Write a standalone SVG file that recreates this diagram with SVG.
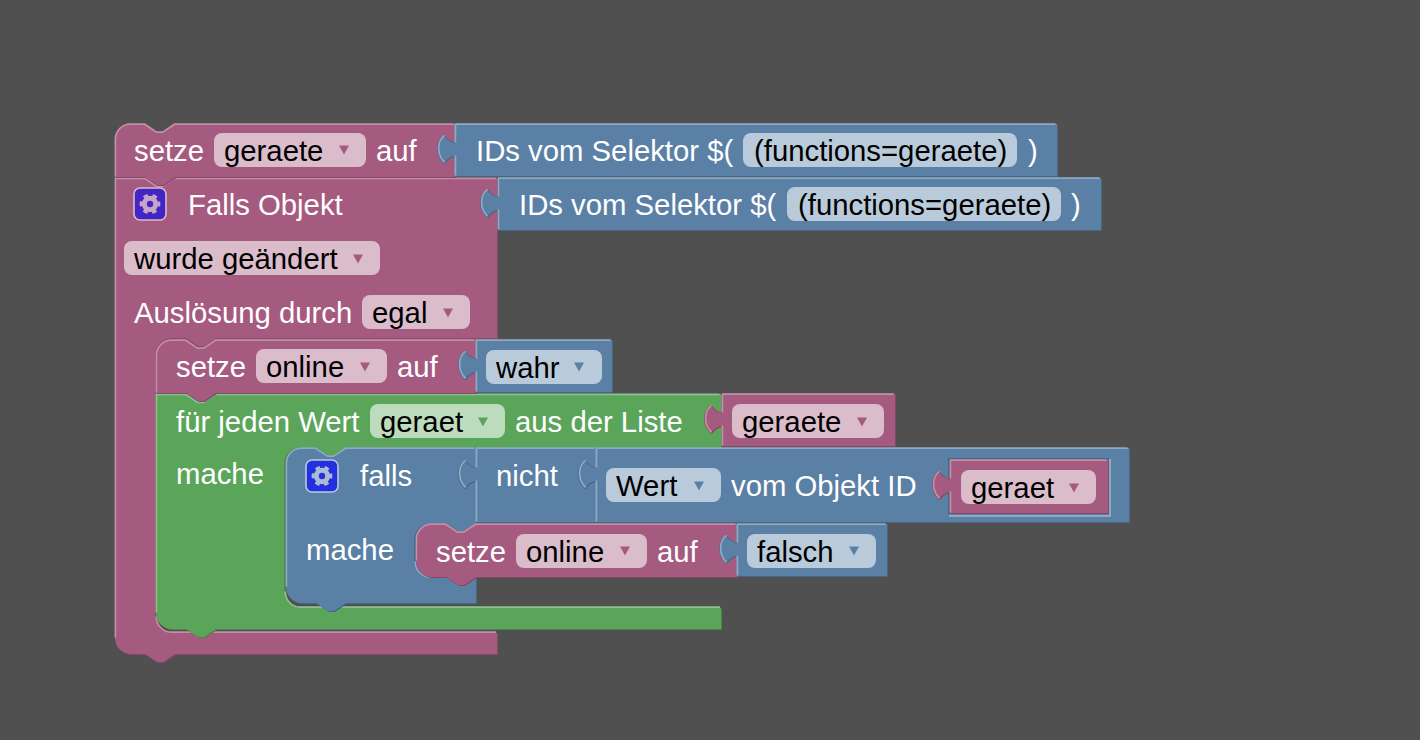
<svg xmlns="http://www.w3.org/2000/svg" width="1420" height="740" viewBox="0 0 1420 740">
<style>
text{font-family:"Liberation Sans",Arial,sans-serif;font-size:29.3px;fill:#fff}
text.f{fill:#000}
.pf{fill:#a55b80}.pd{fill:#844966}.pl{fill:none;stroke:#c28ea8;stroke-width:1.7}.ps{fill:none;stroke:#844966;stroke-width:1.6}
.bf{fill:#5b80a5}.bd{fill:#496684}.bl{fill:none;stroke:#8cabc4;stroke-width:1.7}.bs{fill:none;stroke:#496684;stroke-width:1.6}
.gf{fill:#5ba55b}.gd{fill:#498449}.gl{fill:none;stroke:#8cc38c;stroke-width:1.7}.gs{fill:none;stroke:#498449;stroke-width:1.6}
.pl,.bl,.gl{transform:translate(-.4px,-.6px)}
.dk{transform:translate(1px,1px)}
.pr{fill:#dbbccb}.br{fill:#b9cbdb}.gr{fill:#bddbbd}
.gear{fill:none}
</style>
<defs>
<path id="tri" d="M-5,-4.5H5L0,4.5Z"/>
<g id="gear" class="gear">
<circle r="5.7" stroke-width="5"/>
<circle r="8.8" stroke-width="3.2" stroke-dasharray="4.6 4.61" transform="rotate(-15)"/>
</g>
<path id="s1" d="M115,140a16,16 0 0 1 16,-16H145l12,8h6l12,-8H455V177H175l-12,8h-6l-12,-8H115Z"/>
<path id="s2" d="M115,178H145l12,8h6l12,-8H497V339H216l-12,8h-6l-12,-8H172a16,16 0 0 0 -16,16V617a16,16 0 0 0 16,16H497V654H175l-12,8h-6l-12,-8H131a16,16 0 0 1 -16,-16Z"/>
<path id="s3" d="M156,356a16,16 0 0 1 16,-16H186l12,8h6l12,-8H476V393H216l-12,8h-6l-12,-8H156Z"/>
<path id="s4" d="M156,394H186l12,8h6l12,-8H721V448H346l-12,8h-6l-12,-8H301a16,16 0 0 0 -16,16V592a16,16 0 0 0 16,16H721V629H216l-12,8h-6l-12,-8H172a16,16 0 0 1 -16,-16Z"/>
<path id="s5" d="M286,464a16,16 0 0 1 16,-16H316l12,8h6l12,-8H476V524l-12,8h-6l-12,-8H431a16,16 0 0 0 -16,16V562a16,16 0 0 0 16,16H476V603H346l-12,8h-6l-12,-8H302a16,16 0 0 1 -16,-16Z"/>
<path id="s6" d="M416,540a16,16 0 0 1 16,-16H446l12,8h6l12,-8H737V577H476l-12,8h-6l-12,-8H432a16,16 0 0 1 -16,-16Z"/>
<path id="o1" d="M455,124H1057V176H455V156q-6,0 -11,7q-6,-6 -6,-14q0,-9 6,-13q5,7 11,7Z"/>
<path id="o2" d="M498,178H1101V230H498V210q-6,0 -11,7q-6,-6 -6,-14q0,-9 6,-13q5,7 11,7Z"/>
<path id="o3" d="M476,340H612V392H476V372q-6,0 -11,7q-6,-6 -6,-14q0,-9 6,-13q5,7 11,7Z"/>
<path id="o4" d="M722,394H895V446H722V426q-6,0 -11,7q-6,-6 -6,-14q0,-9 6,-13q5,7 11,7Z"/>
<path id="o5" d="M476,448H596V522H476V481q-6,0 -11,7q-6,-6 -6,-14q0,-9 6,-13q5,7 11,7Z"/>
<path id="o6" d="M596,448H1129V522H596V481q-6,0 -11,7q-6,-6 -6,-14q0,-9 6,-13q5,7 11,7Z"/>
<path id="o7" d="M950,460H1108V513H950V492q-6,0 -11,7q-6,-6 -6,-14q0,-9 6,-13q5,7 11,7Z"/>
<path id="o8" d="M737,524H887V576H737V556q-6,0 -11,7q-6,-6 -6,-14q0,-9 6,-13q5,7 11,7Z"/>
</defs>
<rect width="1420" height="740" fill="#505050"/>

<g id="falls-objekt">
<use href="#s2" class="pd dk"/><use href="#s2" class="pf"/>
<path class="ps" d="M497,339H216l-12,8h-6l-12,-8H172a16,16 0 0 0 -16,16V617"/>
<path class="pl" d="M115.8,638V179H145l12,8h6l12,-8H496.5M156.8,617a15,15 0 0 0 15,15.8H496.5"/>
<rect x="134" y="188" width="32" height="32" rx="6" fill="#4225c4" stroke="#dbbccb" stroke-width="1.6"/>
<use href="#gear" transform="translate(150,204)" stroke="#c7a5c6"/>
<text x="188" y="215">Falls Objekt</text>
<rect class="pr" x="124" y="241" width="256" height="34" rx="8"/>
<text class="f" x="134" y="269">wurde geändert</text>
<use href="#tri" class="pf" x="358" y="259"/>
<text x="134" y="323">Auslösung durch</text>
<rect class="pr" x="362" y="295" width="108" height="34" rx="8"/>
<text class="f" x="372" y="323">egal</text>
<use href="#tri" class="pf" x="448" y="313"/>
</g>

<g id="setze-geraete">
<use href="#s1" class="pd dk"/><use href="#s1" class="pf"/>
<path class="pl" d="M115.8,177V140a15,15 0 0 1 15,-15.2H145l12,8h6l12,-8H454"/>
<text x="134" y="161">setze</text>
<rect class="pr" x="214" y="133" width="152" height="34" rx="8"/>
<text class="f" x="224" y="161">geraete</text>
<use href="#tri" class="pf" x="344" y="150"/>
<text x="376" y="161">auf</text>
</g>

<g id="ids-selektor-1">
<path class="bs" d="M455,156q-6,0 -11,7q-6,-6 -6,-14q0,-9 6,-13q5,7 11,7"/>
<use href="#o1" class="bd dk"/><use href="#o1" class="bf"/>
<path class="bl" d="M455.8,176V156M445,163q-6,-6 -6,-14q0,-9 6,-13M455.8,143V124.8H1056"/>
<text x="476" y="161">IDs vom Selektor $(</text>
<rect class="br" x="743" y="133" width="274" height="34" rx="8"/>
<text class="f" x="754" y="161">(functions=geraete)</text>
<text x="1028" y="161">)</text>
</g>

<g id="ids-selektor-2">
<path class="bs" d="M498,210q-6,0 -11,7q-6,-6 -6,-14q0,-9 6,-13q5,7 11,7"/>
<use href="#o2" class="bd dk"/><use href="#o2" class="bf"/>
<path class="bl" d="M498.8,230V210M488,217q-6,-6 -6,-14q0,-9 6,-13M498.8,197V178.8H1100"/>
<text x="519" y="215">IDs vom Selektor $(</text>
<rect class="br" x="787" y="187" width="274" height="34" rx="8"/>
<text class="f" x="798" y="215">(functions=geraete)</text>
<text x="1071" y="215">)</text>
</g>

<g id="fuer-jeden">
<use href="#s4" class="gd dk"/><use href="#s4" class="gf"/>
<path class="gs" d="M476,448H346l-12,8h-6l-12,-8H301a16,16 0 0 0 -16,16V592"/>
<path class="gl" d="M156.8,613V395H186l12,8h6l12,-8H720M285.8,592a15,15 0 0 0 15,15.8H720.5"/>
<text x="176" y="432">für jeden Wert</text>
<rect class="gr" x="370" y="404" width="135" height="34" rx="8"/>
<text class="f" x="380" y="432">geraet</text>
<use href="#tri" class="gf" x="483" y="422"/>
<text x="515" y="432">aus der Liste</text>
<text x="176" y="484">mache</text>
</g>

<g id="setze-online-1">
<use href="#s3" class="pd dk"/><use href="#s3" class="pf"/>
<path class="pl" d="M156.8,393V356a15,15 0 0 1 15,-15.2H186l12,8h6l12,-8H475"/>
<text x="176" y="377">setze</text>
<rect class="pr" x="256" y="349" width="131" height="34" rx="8"/>
<text class="f" x="266" y="377">online</text>
<use href="#tri" class="pf" x="365" y="367"/>
<text x="397" y="377">auf</text>
</g>

<g id="wahr">
<path class="bs" d="M476,372q-6,0 -11,7q-6,-6 -6,-14q0,-9 6,-13q5,7 11,7"/>
<use href="#o3" class="bd dk"/><use href="#o3" class="bf"/>
<path class="bl" d="M476.8,392V372M466,379q-6,-6 -6,-14q0,-9 6,-13M476.8,359V340.8H611"/>
<rect class="br" x="486" y="350" width="116" height="34" rx="8"/>
<text class="f" x="496" y="378">wahr</text>
<use href="#tri" class="bf" x="579" y="367"/>
</g>

<g id="geraete-wert">
<path class="ps" d="M722,426q-6,0 -11,7q-6,-6 -6,-14q0,-9 6,-13q5,7 11,7"/>
<use href="#o4" class="pd dk"/><use href="#o4" class="pf"/>
<path class="pl" d="M722.8,446V426M712,433q-6,-6 -6,-14q0,-9 6,-13M722.8,413V394.8H894"/>
<rect class="pr" x="732" y="404" width="152" height="34" rx="8"/>
<text class="f" x="742" y="432">geraete</text>
<use href="#tri" class="pf" x="862" y="422"/>
</g>

<g id="falls">
<use href="#s5" class="bd dk"/><use href="#s5" class="bf"/>
<path class="bs" d="M476,524l-12,8h-6l-12,-8H431a16,16 0 0 0 -16,16V562"/>
<path class="bl" d="M286.8,587V464a15,15 0 0 1 15,-15.2H316l12,8h6l12,-8H475M415.8,562a15,15 0 0 0 15,15.8H475"/>
<rect x="306" y="460" width="32" height="32" rx="6" fill="#2430e0" stroke="#b9cbdb" stroke-width="1.6"/>
<use href="#gear" transform="translate(322,476)" stroke="#a9bbd6"/>
<text x="360" y="486">falls</text>
<text x="306" y="560">mache</text>
</g>

<g id="nicht">
<path class="bs" d="M476,481q-6,0 -11,7q-6,-6 -6,-14q0,-9 6,-13q5,7 11,7"/>
<use href="#o5" class="bd dk"/><use href="#o5" class="bf"/>
<path class="bl" d="M476.8,522V481M466,488q-6,-6 -6,-14q0,-9 6,-13M476.8,468V448.8H595"/>
<text x="496" y="486">nicht</text>
</g>

<g id="wert">
<path class="bs" d="M596,481q-6,0 -11,7q-6,-6 -6,-14q0,-9 6,-13q5,7 11,7"/>
<use href="#o6" class="bd dk"/><use href="#o6" class="bf"/>
<path class="bl" d="M596.8,522V481M586,488q-6,-6 -6,-14q0,-9 6,-13M596.8,468V448.8H1128"/>
<rect class="br" x="606" y="468" width="115" height="34" rx="8"/>
<text class="f" x="616" y="496">Wert</text>
<use href="#tri" class="bf" x="699" y="486"/>
<text x="731" y="496">vom Objekt ID</text>
<path d="M949,514V459H1109" fill="none" stroke="#496684" stroke-width="2"/>
<path d="M1110,459V516H949" fill="none" stroke="#8cabc4" stroke-width="2"/>
</g>

<g id="geraet-wert">
<path class="ps" d="M950,492q-6,0 -11,7q-6,-6 -6,-14q0,-9 6,-13q5,7 11,7"/>
<use href="#o7" class="pd dk"/><use href="#o7" class="pf"/>
<path class="pl" d="M950.8,513V492M940,499q-6,-6 -6,-14q0,-9 6,-13M950.8,479V460.8H1107"/>
<rect class="pr" x="961" y="470" width="135" height="34" rx="8"/>
<text class="f" x="971" y="498">geraet</text>
<use href="#tri" class="pf" x="1074" y="488"/>
</g>

<g id="setze-online-2">
<use href="#s6" class="pd dk"/><use href="#s6" class="pf"/>
<path class="pl" d="M416.8,561V540a15,15 0 0 1 15,-15.2H446l12,8h6l12,-8H736"/>
<text x="436" y="562">setze</text>
<rect class="pr" x="516" y="534" width="131" height="34" rx="8"/>
<text class="f" x="526" y="562">online</text>
<use href="#tri" class="pf" x="625" y="551"/>
<text x="657" y="562">auf</text>
</g>

<g id="falsch">
<path class="bs" d="M737,556q-6,0 -11,7q-6,-6 -6,-14q0,-9 6,-13q5,7 11,7"/>
<use href="#o8" class="bd dk"/><use href="#o8" class="bf"/>
<path class="bl" d="M737.8,576V556M727,563q-6,-6 -6,-14q0,-9 6,-13M737.8,543V524.8H886"/>
<rect class="br" x="747" y="534" width="129" height="34" rx="8"/>
<text class="f" x="757" y="562">falsch</text>
<use href="#tri" class="bf" x="854" y="551"/>
</g>
</svg>
